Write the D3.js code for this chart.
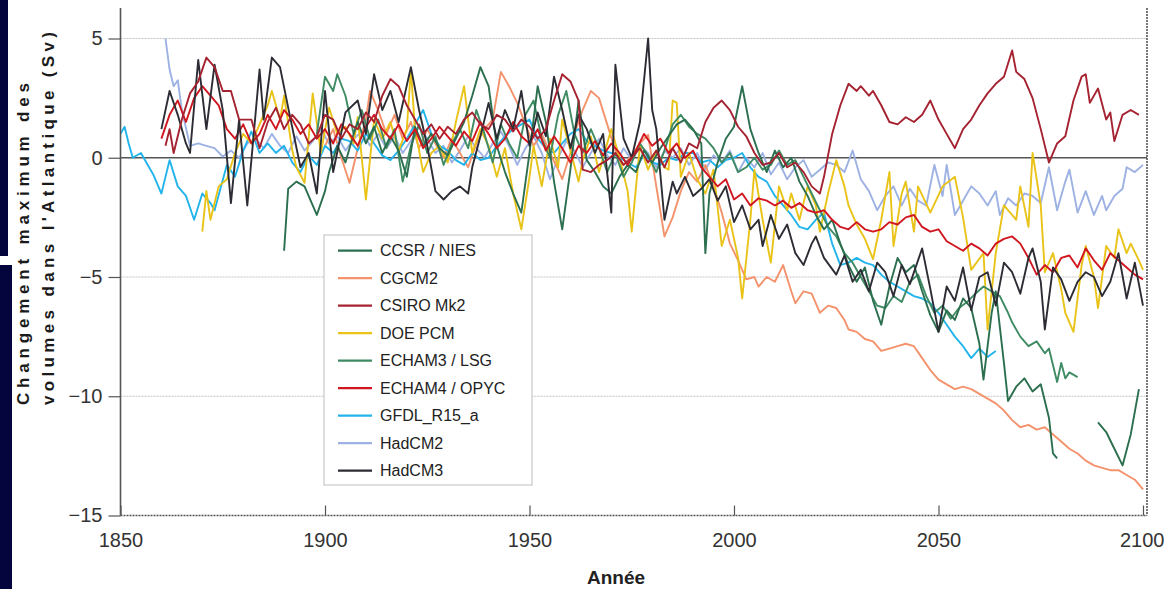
<!DOCTYPE html>
<html>
<head>
<meta charset="utf-8">
<script src="https://cdn.jsdelivr.net/npm/d3@7"></script>
<style>
html,body{margin:0;padding:0;background:#fff;}
svg{display:block;font-family:"Liberation Sans",Arial,Helvetica,sans-serif;}
</style>
</head>
<body>
<svg id="chart" width="1164" height="589"></svg>
<script>
// ---------- DATA ----------
const seriesNames = ["CCSR / NIES","CGCM2","CSIRO Mk2","DOE PCM","ECHAM3 / LSG","ECHAM4 / OPYC","GFDL_R15_a","HadCM2","HadCM3"];
const seriesColors = ["#2b6f4f","#f4926c","#a52231","#e9c318","#3f8b63","#d0161f","#23b4ec","#9db1e3","#2c2c34"];
const xTickValues = [1850,1900,1950,2000,2050,2100];
const yTickValues = [5,0,-5,-10,-15];

const ccsrNies = [[1890,-3.9],[1891,-1.3],[1893,-1.0],[1895,-1.2],[1897,-2.0],[1898,-2.4],[1900,-1.4],[1901,-0.6],[1903,0.5],[1905,-0.2],[1907,1.0],[1908,1.5],[1910,0.6],[1912,1.3],[1914,0.2],[1916,0.9],[1918,0.3],[1920,-0.8],[1922,1.3],[1924,0.5],[1926,1.0],[1928,0.4],[1930,0.1],[1932,0.8],[1934,1.5],[1936,2.6],[1938,3.8],[1940,3.0],[1942,0.5],[1944,-0.6],[1946,-1.5],[1948,-2.3],[1950,0.2],[1952,3.0],[1954,1.5],[1956,-1.0],[1958,-3.0],[1960,-0.5],[1962,2.4],[1964,-0.1],[1966,-0.6],[1968,-1.2],[1970,-1.5],[1972,-0.8],[1974,-0.3],[1976,-0.6],[1978,0.3],[1980,-0.2],[1982,0.4],[1984,0.9],[1986,1.4],[1988,1.6],[1990,1.2],[1992,0.6],[1993,-4.0],[1994,-1.5],[1996,-0.2],[1998,0.8],[2000,1.3],[2002,3.0],[2004,1.2],[2006,0.2],[2008,-0.6],[2010,0.3],[2012,-0.4],[2014,0.0],[2016,-1.0],[2018,-1.6],[2020,-2.4],[2022,-3.0],[2024,-2.6],[2026,-3.6],[2028,-4.5],[2030,-5.2],[2032,-4.6],[2034,-6.0],[2036,-7.0],[2038,-5.4],[2040,-4.2],[2042,-4.8],[2044,-4.5],[2046,-5.6],[2048,-6.6],[2050,-7.3],[2052,-6.4],[2054,-6.8],[2056,-5.9],[2058,-6.3],[2060,-7.8],[2061,-9.3],[2063,-6.5],[2064,-5.6],[2066,-8.6],[2067,-10.2],[2069,-9.6],[2071,-9.25],[2073,-9.8],[2075,-9.5],[2077,-10.9],[2078,-12.4],[2079,-12.6],[2084,null],[2089,-11.1],[2091,-11.5],[2093,-12.2],[2095,-12.9],[2097,-11.6],[2099,-9.7]];

const cgcm2 = [[1900,0.5],[1902,1.2],[1904,0.0],[1906,-1.05],[1908,0.4],[1910,1.6],[1911,2.8],[1913,2.0],[1915,1.0],[1917,1.8],[1919,0.8],[1921,1.5],[1923,0.4],[1925,1.2],[1927,0.6],[1929,0.0],[1931,0.8],[1933,0.2],[1935,-0.4],[1937,0.6],[1939,1.2],[1941,1.6],[1943,3.6],[1945,3.0],[1947,2.3],[1949,1.4],[1951,0.5],[1953,1.0],[1955,0.2],[1957,-0.5],[1958,-0.9],[1960,0.2],[1961,1.0],[1963,2.0],[1965,2.8],[1967,2.5],[1969,1.4],[1971,0.3],[1973,-0.3],[1975,0.1],[1977,0.6],[1979,0.96],[1981,-1.2],[1983,-3.3],[1985,-2.5],[1987,-1.4],[1989,-0.6],[1991,-1.0],[1993,-0.3],[1995,-1.2],[1997,-2.3],[1999,-3.6],[2001,-4.3],[2003,-5.1],[2005,-5.0],[2006,-5.4],[2008,-5.0],[2010,-5.2],[2012,-4.5],[2014,-5.6],[2015,-6.1],[2017,-5.6],[2019,-5.7],[2021,-6.5],[2023,-6.2],[2025,-6.3],[2027,-6.8],[2028,-7.2],[2030,-7.3],[2032,-7.6],[2034,-7.7],[2036,-8.1],[2038,-8.0],[2040,-7.9],[2042,-7.8],[2044,-7.9],[2046,-8.4],[2048,-8.9],[2050,-9.3],[2052,-9.5],[2054,-9.7],[2056,-9.6],[2058,-9.7],[2060,-9.9],[2062,-10.1],[2064,-10.3],[2066,-10.6],[2068,-11.0],[2070,-11.3],[2072,-11.2],[2074,-11.4],[2076,-11.3],[2078,-11.6],[2080,-11.9],[2082,-12.2],[2084,-12.4],[2086,-12.7],[2088,-12.9],[2090,-13.0],[2092,-13.1],[2094,-13.1],[2096,-13.3],[2098,-13.5],[2100,-13.9]];

const csiroMk2 = [[1861,0.5],[1862,1.2],[1863,0.2],[1865,1.6],[1867,2.7],[1869,3.2],[1871,4.2],[1873,3.8],[1875,2.8],[1877,2.8],[1879,1.6],[1882,1.6],[1884,0.4],[1886,1.5],[1888,2.1],[1890,1.2],[1892,1.8],[1894,1.4],[1896,0.6],[1898,0.9],[1900,1.8],[1902,1.6],[1904,0.8],[1906,1.4],[1908,1.2],[1910,1.9],[1912,1.5],[1914,2.6],[1916,3.3],[1918,3.0],[1920,2.2],[1922,1.6],[1924,1.0],[1926,1.4],[1928,0.8],[1930,1.3],[1932,1.0],[1934,1.6],[1936,1.9],[1938,1.4],[1940,1.2],[1942,1.8],[1944,1.6],[1946,1.1],[1948,1.6],[1950,1.3],[1952,0.8],[1954,1.2],[1956,2.4],[1958,3.5],[1960,3.2],[1962,2.4],[1963,-0.5],[1965,-0.6],[1967,-0.3],[1969,-0.1],[1971,0.2],[1973,-0.3],[1975,0.0],[1977,0.4],[1979,-0.2],[1981,0.3],[1983,-0.4],[1985,0.4],[1987,-0.2],[1989,0.6],[1991,0.4],[1993,1.5],[1995,2.1],[1997,2.4],[1999,2.0],[2001,1.3],[2003,0.9],[2005,0.2],[2007,-0.3],[2009,-0.2],[2011,0.2],[2013,-0.4],[2015,-0.2],[2017,-0.6],[2019,-1.2],[2021,-1.5],[2022,-0.8],[2023,0.1],[2024,1.0],[2026,2.2],[2028,3.1],[2030,2.8],[2031,3.0],[2033,2.6],[2034,2.8],[2036,2.2],[2038,1.5],[2040,1.4],[2042,1.7],[2044,1.5],[2046,1.8],[2048,2.4],[2050,1.6],[2052,1.0],[2054,0.4],[2056,1.2],[2058,1.6],[2060,2.2],[2062,2.7],[2064,3.1],[2066,3.4],[2068,4.5],[2069,3.6],[2071,3.3],[2073,2.5],[2075,1.2],[2077,-0.2],[2079,0.6],[2081,0.9],[2083,2.4],[2085,3.4],[2086,3.5],[2087,2.3],[2089,2.9],[2091,1.6],[2092,1.9],[2093,0.7],[2095,1.8],[2097,2.0],[2099,1.8]];

const doePcm = [[1870,-3.1],[1871,-1.4],[1872,-2.6],[1874,-1.2],[1876,-0.9],[1878,0.2],[1880,1.0],[1882,0.6],[1884,1.4],[1886,2.2],[1887,2.8],[1889,1.6],[1890,2.6],[1892,0.3],[1893,-0.4],[1895,-1.05],[1897,2.7],[1899,0.2],[1901,2.1],[1903,1.0],[1905,1.3],[1907,0.6],[1908,1.7],[1910,-1.75],[1912,1.6],[1914,0.8],[1916,1.5],[1918,0.3],[1920,1.2],[1921,3.7],[1922,1.2],[1924,-0.6],[1926,0.2],[1928,0.5],[1930,-0.2],[1932,1.5],[1934,3.0],[1936,0.2],[1938,1.2],[1940,0.5],[1942,-0.8],[1944,0.4],[1946,-1.5],[1948,-3.0],[1950,-0.8],[1951,0.5],[1953,-1.2],[1955,0.8],[1957,-0.4],[1958,1.6],[1960,0.3],[1962,-1.0],[1963,-0.1],[1965,0.9],[1967,-0.6],[1970,1.2],[1972,0.0],[1974,-1.4],[1975,-3.1],[1977,0.5],[1979,-0.5],[1981,0.3],[1983,-0.4],[1984,-0.5],[1985,2.4],[1986,2.3],[1987,-0.8],[1989,0.2],[1991,-0.9],[1993,-1.5],[1995,-0.5],[1997,-3.7],[1999,-2.6],[2001,-4.2],[2002,-5.9],[2004,-2.6],[2005,-0.5],[2007,-2.6],[2009,-4.4],[2011,-1.2],[2013,-2.2],[2014,-1.5],[2016,-2.6],[2018,-1.2],[2020,-2.0],[2021,-3.1],[2023,-1.5],[2025,-0.1],[2027,-1.2],[2028,-2.0],[2030,-2.8],[2032,-3.4],[2034,-4.25],[2036,-2.6],[2038,-0.6],[2039,-3.7],[2041,-1.5],[2042,-1.0],[2044,-3.1],[2045,-1.2],[2048,-2.3],[2051,-1.2],[2054,-0.8],[2056,-2.5],[2058,-4.7],[2061,-4.0],[2062,-7.2],[2064,-4.0],[2066,-2.0],[2068,-2.4],[2069,-2.6],[2070,-1.2],[2072,-2.9],[2073,0.2],[2075,-2.0],[2076,-4.8],[2078,-4.0],[2080,-5.5],[2081,-6.5],[2083,-7.3],[2085,-4.5],[2086,-3.7],[2088,-5.0],[2089,-6.3],[2091,-3.7],[2093,-4.2],[2094,-3.0],[2096,-4.0],[2097,-3.6],[2099,-4.3],[2100,-4.7]];

const echam3Lsg = [[1898,1.0],[1900,3.4],[1902,2.8],[1903,3.5],[1905,2.6],[1907,1.0],[1909,2.0],[1911,0.8],[1913,1.6],[1915,0.4],[1917,1.2],[1919,-1.0],[1921,0.5],[1923,1.4],[1925,0.2],[1927,0.9],[1929,-0.3],[1931,0.6],[1933,1.2],[1935,0.4],[1937,2.0],[1939,1.0],[1941,-0.2],[1943,1.4],[1945,0.6],[1947,0.0],[1949,1.8],[1951,2.4],[1953,0.8],[1955,0.0],[1957,1.8],[1959,2.8],[1961,1.0],[1963,0.2],[1965,1.2],[1967,0.4],[1969,-0.6],[1971,0.2],[1973,-0.8],[1975,-0.2],[1977,0.6],[1979,0.1],[1981,-0.6],[1983,0.3],[1985,1.4],[1987,1.8],[1989,1.3],[1991,1.0],[1993,0.8],[1995,0.4],[1997,-0.2],[1999,0.2],[2001,-0.6],[2003,-0.4],[2005,0.0],[2007,-0.5],[2009,-0.3],[2011,0.3],[2013,-0.3],[2015,-0.1],[2017,-0.8],[2019,-1.5],[2021,-2.2],[2023,-2.9],[2025,-3.3],[2027,-4.0],[2029,-4.4],[2031,-5.0],[2033,-5.6],[2035,-6.2],[2037,-6.3],[2039,-5.8],[2041,-6.05],[2043,-5.2],[2045,-4.9],[2047,-5.8],[2049,-6.5],[2051,-6.2],[2053,-6.75],[2055,-6.3],[2057,-6.05],[2059,-5.7],[2061,-5.4],[2063,-5.6],[2065,-5.8],[2067,-6.5],[2068,-6.9],[2070,-7.5],[2072,-7.9],[2074,-7.7],[2076,-8.2],[2077,-8.0],[2079,-9.4],[2080,-8.6],[2081,-9.25],[2082,-9.0],[2084,-9.2]];

const echam4Opyc = [[1860,0.8],[1862,1.8],[1864,2.4],[1866,1.5],[1868,2.5],[1870,3.0],[1872,2.6],[1874,2.2],[1876,1.2],[1878,0.8],[1880,1.4],[1882,0.6],[1884,1.0],[1886,1.8],[1888,1.2],[1890,2.0],[1892,1.6],[1894,1.0],[1896,1.4],[1898,0.8],[1900,1.2],[1902,0.6],[1904,1.4],[1906,1.0],[1908,0.5],[1910,1.3],[1912,1.8],[1914,1.2],[1916,0.8],[1918,1.4],[1920,0.7],[1922,1.2],[1924,0.4],[1926,0.8],[1928,1.3],[1930,0.9],[1932,0.5],[1934,1.1],[1936,0.7],[1938,1.5],[1940,1.0],[1942,0.4],[1944,0.8],[1946,1.5],[1948,0.9],[1950,0.6],[1952,1.2],[1954,0.3],[1956,0.9],[1958,0.4],[1960,-0.2],[1962,0.5],[1964,0.2],[1966,0.7],[1968,0.1],[1970,0.6],[1972,0.2],[1974,-0.3],[1976,0.3],[1978,1.0],[1980,0.5],[1982,0.8],[1984,0.2],[1986,0.6],[1988,0.0],[1990,0.3],[1992,-0.4],[1994,-0.8],[1996,-1.2],[1998,-0.9],[2000,-1.75],[2002,-1.5],[2004,-2.0],[2006,-1.7],[2008,-1.8],[2010,-2.0],[2012,-1.8],[2014,-2.1],[2016,-1.9],[2018,-2.2],[2020,-2.3],[2022,-2.2],[2024,-2.6],[2026,-2.9],[2028,-3.0],[2030,-2.7],[2032,-3.0],[2034,-3.1],[2036,-3.0],[2038,-2.7],[2040,-2.8],[2042,-2.5],[2044,-2.4],[2046,-2.9],[2048,-3.1],[2050,-3.0],[2052,-3.5],[2054,-3.7],[2056,-3.9],[2058,-3.6],[2060,-3.8],[2062,-4.1],[2064,-3.6],[2066,-3.4],[2068,-3.3],[2070,-3.6],[2072,-4.2],[2074,-4.9],[2076,-4.5],[2078,-4.8],[2080,-4.2],[2082,-4.1],[2084,-4.6],[2086,-3.8],[2088,-4.3],[2090,-4.7],[2092,-4.0],[2094,-4.3],[2096,-4.6],[2098,-4.9],[2100,-5.1]];

const gfdlR15a = [[1850,1.0],[1851,1.3],[1852,0.6],[1853,0.0],[1855,0.2],[1858,-0.7],[1860,-1.5],[1862,-0.1],[1864,-1.2],[1866,-1.6],[1868,-2.6],[1870,-1.5],[1872,-1.9],[1873,-2.2],[1876,-0.3],[1878,-0.8],[1880,0.3],[1882,1.1],[1884,0.2],[1886,0.6],[1888,0.2],[1890,0.5],[1892,-0.2],[1894,-0.6],[1896,0.1],[1898,-0.3],[1900,0.5],[1902,0.2],[1904,0.8],[1906,0.7],[1908,0.3],[1910,1.0],[1912,0.6],[1914,0.1],[1916,-0.1],[1918,0.3],[1920,0.8],[1922,1.4],[1924,2.0],[1926,1.0],[1928,0.5],[1930,0.3],[1932,-0.1],[1934,-0.3],[1936,0.2],[1938,-0.1],[1940,0.0],[1942,0.5],[1944,0.9],[1946,1.2],[1948,1.4],[1950,1.6],[1952,0.8],[1954,0.4],[1956,0.2],[1958,0.6],[1960,1.0],[1962,1.2],[1964,0.7],[1966,0.5],[1968,0.3],[1970,0.2],[1972,0.0],[1974,-0.2],[1976,-0.4],[1978,0.1],[1980,-0.2],[1982,-0.3],[1984,0.0],[1986,-0.1],[1988,0.2],[1990,0.2],[1992,-0.2],[1994,-0.1],[1996,-0.4],[1998,-0.1],[2000,0.0],[2002,0.2],[2004,-0.4],[2006,-0.8],[2008,-1.0],[2010,-1.6],[2012,-2.0],[2014,-2.4],[2016,-2.9],[2018,-3.0],[2020,-2.6],[2022,-2.3],[2024,-3.6],[2026,-4.5],[2028,-4.4],[2030,-4.2],[2032,-4.4],[2034,-4.5],[2036,-4.9],[2038,-5.2],[2040,-5.4],[2042,-5.6],[2044,-5.8],[2046,-5.9],[2048,-6.1],[2050,-6.5],[2052,-7.0],[2054,-7.5],[2056,-7.9],[2058,-8.4],[2060,-8.0],[2062,-8.35],[2064,-8.1]];

const hadCM2 = [[1861,5.0],[1862,3.7],[1863,3.0],[1864,3.25],[1865,2.0],[1867,0.5],[1869,0.6],[1871,0.5],[1873,0.4],[1875,0.05],[1877,0.3],[1879,0.0],[1881,0.6],[1883,0.8],[1885,0.4],[1887,1.0],[1889,0.5],[1891,0.2],[1893,0.9],[1895,0.3],[1897,0.7],[1899,1.2],[1901,0.6],[1903,0.9],[1905,0.3],[1907,0.8],[1909,1.1],[1911,0.5],[1913,1.0],[1915,0.4],[1917,0.9],[1919,0.2],[1921,0.7],[1923,1.3],[1925,0.8],[1927,0.2],[1929,0.5],[1931,-0.2],[1933,0.3],[1935,0.9],[1937,0.4],[1939,0.0],[1941,0.6],[1943,1.1],[1945,0.5],[1947,-0.3],[1949,0.4],[1951,0.9],[1953,0.2],[1955,-0.9],[1957,0.0],[1959,0.7],[1961,0.3],[1963,-0.4],[1965,0.2],[1967,0.8],[1969,0.1],[1971,-0.3],[1973,0.4],[1975,-0.1],[1977,0.5],[1979,0.2],[1981,-0.4],[1983,0.3],[1985,0.0],[1987,0.4],[1989,-0.3],[1991,0.2],[1993,-0.5],[1995,0.1],[1997,-0.2],[1999,0.3],[2001,-0.6],[2003,0.0],[2005,-0.4],[2007,0.2],[2009,-0.7],[2011,-0.2],[2013,-0.9],[2015,-0.4],[2017,-0.1],[2019,-0.8],[2021,-0.5],[2023,-0.2],[2025,-0.3],[2027,-0.6],[2029,0.3],[2031,-0.9],[2033,-1.4],[2035,-2.2],[2037,-1.6],[2039,-1.2],[2041,-2.0],[2043,-1.3],[2045,-1.8],[2047,-2.0],[2049,-0.3],[2051,-1.6],[2052,-0.3],[2054,-2.4],[2056,-1.8],[2058,-1.2],[2060,-1.5],[2062,-2.0],[2064,-1.4],[2065,-2.4],[2067,-1.7],[2069,-2.0],[2071,-1.5],[2073,-1.6],[2075,-1.9],[2077,-0.4],[2079,-2.2],[2081,-1.0],[2082,-0.5],[2084,-2.3],[2086,-1.4],[2088,-2.4],[2090,-1.6],[2091,-2.2],[2093,-1.6],[2095,-1.3],[2096,-0.4],[2098,-0.6],[2100,-0.3]];

const hadCM3 = [[1860,1.2],[1862,2.8],[1864,1.8],[1866,0.6],[1867,0.2],[1869,4.1],[1871,1.2],[1873,3.9],[1875,2.0],[1877,-1.9],[1879,1.6],[1881,-2.0],[1884,3.7],[1885,1.6],[1887,4.2],[1889,3.8],[1891,2.1],[1894,-0.4],[1896,0.2],[1898,-1.5],[1900,2.8],[1902,-0.6],[1905,1.9],[1908,2.4],[1910,1.0],[1912,3.5],[1914,2.0],[1916,2.8],[1918,1.5],[1921,3.8],[1923,2.0],[1925,0.5],[1927,-1.4],[1929,-1.75],[1931,-1.4],[1933,-1.2],[1935,-1.5],[1936,-0.4],[1938,0.9],[1940,2.3],[1942,0.8],[1944,2.0],[1946,1.2],[1948,2.8],[1950,0.5],[1952,1.9],[1954,0.9],[1956,3.4],[1958,2.0],[1960,0.4],[1962,1.8],[1964,1.2],[1966,0.2],[1968,1.0],[1970,-2.3],[1971,3.9],[1973,0.8],[1975,0.0],[1977,1.5],[1979,5.0],[1980,2.0],[1981,1.2],[1983,-2.6],[1985,-1.0],[1986,-1.5],[1988,-0.8],[1990,-1.6],[1992,-1.3],[1994,-0.9],[1996,-1.8],[1998,-1.2],[2000,-2.7],[2002,-2.0],[2004,-3.0],[2006,-2.6],[2007,-3.7],[2009,-2.4],[2011,-3.4],[2013,-2.8],[2015,-4.0],[2017,-4.5],[2019,-3.6],[2020,-3.3],[2022,-4.2],[2025,-4.9],[2027,-4.1],[2029,-5.2],[2031,-4.7],[2033,-5.6],[2035,-4.4],[2037,-4.8],[2039,-5.8],[2041,-4.5],[2043,-5.3],[2046,-3.8],[2048,-5.5],[2050,-7.3],[2052,-5.4],[2054,-6.0],[2056,-4.6],[2058,-6.4],[2060,-5.0],[2062,-4.8],[2064,-6.2],[2066,-4.4],[2068,-4.8],[2070,-5.7],[2072,-4.2],[2073,-3.8],[2075,-5.2],[2076,-7.2],[2078,-4.6],[2080,-5.1],[2082,-6.0],[2084,-5.2],[2086,-4.8],[2088,-5.0],[2090,-5.8],[2092,-5.2],[2094,-4.0],[2096,-5.9],[2098,-4.4],[2100,-6.2]];

const seriesData = [ccsrNies, cgcm2, csiroMk2, doePcm, echam3Lsg, echam4Opyc, gfdlR15a, hadCM2, hadCM3];
// drawing order (indices into seriesNames)
const drawOrder = [7,1,6,3,4,0,5,8,2];

// ---------- CHART ----------
const svg = d3.select("#chart");
const x = d3.scaleLinear().domain([1850,2100]).range([120.5,1143]);
const y = d3.scaleLinear().domain([-15,5]).range([515.5,38.5]);
const yTop = y(6.28);
const xRight = 1147;

// left dark bars
svg.append("rect").attr("x",0).attr("y",0).attr("width",8).attr("height",256).attr("fill","#05053d");
svg.append("rect").attr("x",0).attr("y",265).attr("width",12).attr("height",324).attr("fill","#05053d");

// gridlines
[5,-5,-10].forEach(v=>{
  svg.append("line").attr("x1",x(1850)).attr("x2",xRight).attr("y1",y(v)).attr("y2",y(v))
    .attr("stroke","#c4c4c4").attr("stroke-width",1.2).attr("stroke-dasharray","2,1");
});
svg.append("line").attr("x1",x(1850)).attr("x2",xRight).attr("y1",y(0)).attr("y2",y(0))
  .attr("stroke","#555").attr("stroke-width",1.5);

// series lines
const line = d3.line().defined(d=>d[1]!==null).x(d=>x(d[0])).y(d=>y(d[1]));
const gLines = svg.append("g");
drawOrder.forEach(i=>{
  gLines.append("path").datum(seriesData[i]).attr("d",line)
    .attr("fill","none").attr("stroke",seriesColors[i]).attr("stroke-width",1.9)
    .attr("stroke-linejoin","round");
});

// axes
const yAxis = d3.axisLeft(y).tickValues(yTickValues).tickSize(12).tickPadding(6)
  .tickFormat(d=>d<0 ? "\u2212"+Math.abs(d) : d);
const gy = svg.append("g").attr("transform",`translate(${x(1850)},0)`).call(yAxis);
gy.select(".domain").remove();
gy.selectAll(".tick line").attr("stroke","#555").attr("stroke-width",1.2);
gy.selectAll(".tick text").attr("font-size",20).attr("fill","#333").attr("font-family","Liberation Sans, Arial, sans-serif");

const xAxis = d3.axisBottom(x).tickValues(xTickValues).tickSizeInner(-10).tickSizeOuter(0).tickPadding(17)
  .tickFormat(d3.format("d"));
const gx = svg.append("g").attr("transform",`translate(0,${y(-15)})`).call(xAxis);
gx.select(".domain").remove();
gx.selectAll(".tick line").attr("stroke","#555").attr("stroke-width",1.2);
gx.selectAll(".tick text").attr("font-size",20).attr("fill","#333").attr("font-family","Liberation Sans, Arial, sans-serif");
// keep the last label inside the picture
gx.selectAll(".tick text").filter(d=>d===2100).attr("text-anchor","end").attr("dx","21");

// axis lines
svg.append("line").attr("x1",x(1850)).attr("x2",x(1850)).attr("y1",yTop).attr("y2",y(-15))
  .attr("stroke","#555").attr("stroke-width",1.6);
svg.append("line").attr("x1",x(1850)).attr("x2",xRight).attr("y1",y(-15)).attr("y2",y(-15))
  .attr("stroke","#555").attr("stroke-width",1.6).attr("stroke-dasharray","2,1");
svg.append("line").attr("x1",xRight).attr("x2",xRight).attr("y1",yTop).attr("y2",y(-15))
  .attr("stroke","#555").attr("stroke-width",1.6).attr("stroke-dasharray","2,1");

// axis titles
svg.append("text").attr("x",616).attr("y",584).attr("text-anchor","middle")
  .attr("font-size",19).attr("font-weight","bold").attr("fill","#222").text("Année");

svg.append("text").attr("transform","translate(29,405) rotate(-90)")
  .attr("font-size",17).attr("font-weight","bold").attr("fill","#1a1a1a")
  .attr("textLength",322).attr("lengthAdjust","spacing").text("Changement maximum des");
svg.append("text").attr("transform","translate(54,405) rotate(-90)")
  .attr("font-size",17).attr("font-weight","bold").attr("fill","#1a1a1a")
  .attr("textLength",373).attr("lengthAdjust","spacing").text("volumes dans l'Atlantique (Sv)");

// legend
const lg = svg.append("g");
lg.append("rect").attr("x",324).attr("y",235).attr("width",208).attr("height",250)
  .attr("fill","#fff").attr("stroke","#c8c8c8").attr("stroke-width",1.2);
seriesNames.forEach((n,i)=>{
  const yy = 250.7 + i*27.5;
  lg.append("line").attr("x1",338).attr("x2",372).attr("y1",yy).attr("y2",yy)
    .attr("stroke",seriesColors[i]).attr("stroke-width",2.2);
  lg.append("text").attr("x",380).attr("y",yy).attr("dy","0.35em")
    .attr("font-size",16).attr("fill","#222").text(n);
});
</script>
</body>
</html>
